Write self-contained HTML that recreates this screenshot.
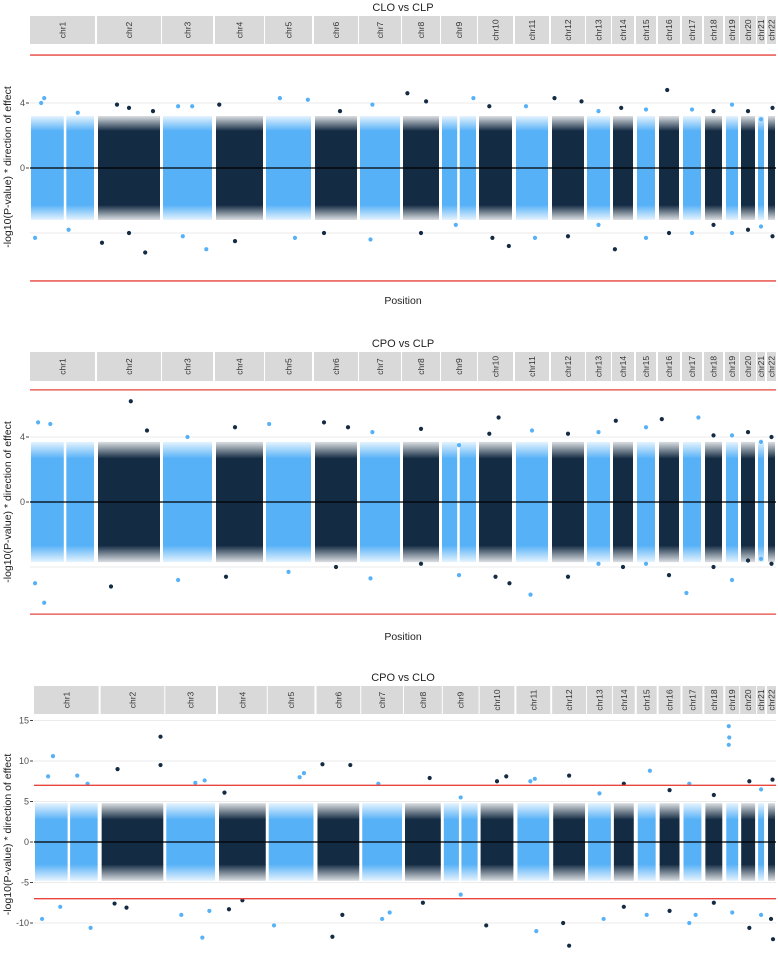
<!DOCTYPE html>
<html><head><meta charset="utf-8"><style>
html,body{margin:0;padding:0;background:#fff;}
svg{display:block;font-family:"Liberation Sans",sans-serif;}
</style></head><body>
<svg id="chart" width="778" height="953" viewBox="0 0 778 953" xmlns="http://www.w3.org/2000/svg">
<defs>
<linearGradient id="gLightUp" x1="0" y1="1" x2="0" y2="0"><stop offset="0" stop-color="#56B1F7" stop-opacity="1"/><stop offset="1" stop-color="#56B1F7" stop-opacity="0.15"/></linearGradient>
<linearGradient id="gLightDn" x1="0" y1="0" x2="0" y2="1"><stop offset="0" stop-color="#56B1F7" stop-opacity="1"/><stop offset="1" stop-color="#56B1F7" stop-opacity="0.15"/></linearGradient>
<linearGradient id="gDarkUp" x1="0" y1="1" x2="0" y2="0"><stop offset="0" stop-color="#132B43" stop-opacity="1"/><stop offset="1" stop-color="#132B43" stop-opacity="0.15"/></linearGradient>
<linearGradient id="gDarkDn" x1="0" y1="0" x2="0" y2="1"><stop offset="0" stop-color="#132B43" stop-opacity="1"/><stop offset="1" stop-color="#132B43" stop-opacity="0.15"/></linearGradient>
</defs>
</svg>
<script>
const chromNames = ["chr1","chr2","chr3","chr4","chr5","chr6","chr7","chr8","chr9","chr10","chr11","chr12","chr13","chr14","chr15","chr16","chr17","chr18","chr19","chr20","chr21","chr22"];
const chromStart = [30,97,162,215,265,314,359,402,441,478,515,551,586,612,636,658,682,704,725,740,757,767];
const chromEnd   = [95,161,213,264,312,358,401,440,477,513,549,585,611,634,656,680,702,723,739,756,765,776];
const panelTitles = ["CLO vs CLP","CPO vs CLP","CPO vs CLO"];
const bodyTop = [2.3,2.7,2.8];
const fringeTop = [3.2,3.7,4.8];
const threshold = [6.95,6.9,7];
const ticks1 = [4,0];
const ticks2 = [4,0];
const ticks3 = [15,10,5,0,-5,-10];
const out1 = [[0,.2,4.3],[0,.15,4.0],[0,.75,3.4],[0,.05,-4.3],[0,.6,-3.8],[1,.3,3.9],[1,.5,3.7],[1,.9,3.5],[1,.05,-4.6],[1,.77,-5.2],[1,.5,-4.0],[2,.3,3.8],[2,.6,3.8],[2,.9,-5.0],[2,.4,-4.2],[3,.05,3.9],[3,.4,-4.5],[4,.3,4.3],[4,.95,4.2],[4,.65,-4.3],[5,.6,3.5],[5,.2,-4.0],[6,.3,3.9],[6,.25,-4.4],[7,.1,4.6],[7,.65,4.1],[7,.5,-4.0],[8,.95,4.3],[8,.4,-3.5],[9,.3,3.8],[9,.93,-4.8],[9,.4,-4.3],[10,.3,3.8],[10,.6,-4.3],[11,.05,4.3],[11,.95,4.1],[11,.5,-4.2],[12,.5,3.5],[12,.5,-3.5],[13,.4,3.7],[13,.05,-5.0],[14,.5,3.6],[14,.5,-4.3],[15,.4,4.8],[15,.5,-4.0],[16,.5,3.6],[16,.5,-4.0],[17,.5,3.5],[17,.5,-3.5],[18,.5,3.9],[18,.5,-4.0],[19,.5,3.5],[19,.5,-3.8],[20,.5,3.0],[20,.5,-3.6],[21,.7,3.7],[21,.7,-4.2]];
const out2 = [[0,.1,4.9],[0,.3,4.8],[0,.05,-5.0],[0,.2,-6.2],[1,.53,6.2],[1,.8,4.4],[1,.2,-5.2],[2,.5,4.0],[2,.3,-4.8],[3,.4,4.6],[3,.2,-4.6],[4,.05,4.8],[4,.5,-4.3],[5,.2,4.9],[5,.8,4.6],[5,.5,-4.0],[6,.3,4.3],[6,.25,-4.7],[7,.5,4.5],[7,.5,-3.8],[8,.5,3.5],[8,.5,-4.5],[9,.6,5.2],[9,.3,4.2],[9,.95,-5.0],[9,.5,-4.6],[10,.5,4.4],[10,.45,-5.7],[11,.5,4.2],[11,.5,-4.6],[12,.5,4.3],[12,.5,-3.8],[13,.1,5.0],[13,.5,-4.0],[14,.5,4.6],[14,.5,-3.8],[15,.1,5.1],[15,.5,-4.5],[16,.9,5.2],[16,.15,-5.6],[17,.5,4.1],[17,.5,-4.0],[18,.5,4.1],[18,.5,-4.8],[19,.5,4.3],[19,.5,-3.6],[20,.5,3.7],[20,.5,-3.5],[21,.5,4.0],[21,.5,-3.8]];
const out3 = [[0,.28,10.6],[0,.2,8.1],[0,.68,8.2],[0,.85,7.2],[0,.1,-9.5],[0,.9,-10.6],[0,.4,-8.0],[1,.97,13.0],[1,.97,9.5],[1,.25,9.0],[1,.2,-7.6],[1,.4,-8.1],[2,.8,7.6],[2,.6,7.3],[2,.75,-11.8],[2,.3,-9.0],[2,.9,-8.5],[3,.1,6.1],[3,.2,-8.3],[3,.5,-7.2],[4,.8,8.5],[4,.7,8.0],[4,.1,-10.3],[5,.1,9.6],[5,.8,9.5],[5,.35,-11.7],[5,.6,-9.0],[6,.4,7.2],[6,.5,-9.5],[6,.7,-8.7],[7,.7,7.9],[7,.5,-7.5],[8,.5,5.5],[8,.5,-6.5],[9,.8,8.1],[9,.5,7.5],[9,.15,-10.3],[10,.55,7.8],[10,.4,7.5],[10,.6,-11.0],[11,.5,8.2],[11,.5,-12.8],[11,.3,-10.0],[12,.5,6.0],[12,.7,-9.5],[13,.5,7.2],[13,.5,-8.0],[14,.7,8.8],[14,.5,-9.0],[15,.5,6.4],[15,.5,-8.5],[16,.3,7.2],[16,.3,-10.0],[16,.7,-9.0],[17,.5,5.8],[17,.5,-7.5],[18,.15,14.3],[18,.2,12.9],[18,.15,12.0],[18,.5,-8.7],[19,.6,7.5],[19,.6,-10.6],[20,.5,6.5],[20,.5,-9.0],[21,.7,7.7],[21,.8,-12.0],[21,.4,-9.5]];

const NS="http://www.w3.org/2000/svg";
const svg=document.getElementById('chart');
function mk(tag,attrs,parent){const e=document.createElementNS(NS,tag);for(const k in attrs)e.setAttribute(k,attrs[k]);(parent||svg).appendChild(e);return e;}
const LIGHT="#56B1F7",DARK="#132B43";
const panels=[
 {title:6,s0:16,s1:44,xL:30,zero:168,ppu:16.25,top:48,bot:286,xlab:300,ticks:ticks1,out:out1},
 {title:342,s0:352,s1:381,xL:30,zero:502,ppu:16.25,top:384,bot:620,xlab:636,ticks:ticks2,out:out2},
 {title:676,s0:686,s1:714,xL:34,zero:842,ppu:8.1,top:716,bot:953,xlab:null,ticks:ticks3,out:out3}
];
panels.forEach((p,pi)=>{
  const g=mk('g',{});
  
  
  const sc=(776-p.xL)/(776-30);
  const xs=x=>p.xL+(x-30)*sc;
  const y=v=>p.zero-v*p.ppu;
  const t=mk('text',{x:403,y:p.title+5,'text-anchor':'middle','font-size':11,fill:'#222'},g);
  t.textContent=panelTitles[pi];
  
  
  p.ticks.forEach(v=>{
    const gl=mk('line',{x1:p.xL,x2:776,y1:y(v),y2:y(v),stroke:'#ebebeb','stroke-width':1},g);
    
    
    const tk=mk('line',{x1:p.xL-4,x2:p.xL-1,y1:y(v),y2:y(v),stroke:'#444','stroke-width':1},g);
    
    
    const tl=mk('text',{x:p.xL-5,y:y(v)+3,'text-anchor':'end','font-size':9,fill:'#4d4d4d'},g);
    tl.textContent=v;
    
    
  });
  if(pi<2){const gl=mk('line',{x1:p.xL,x2:776,y1:y(-4),y2:y(-4),stroke:'#ebebeb'},g);
    }
  chromNames.forEach((c,i)=>{
    const a=xs(chromStart[i]),b=xs(chromEnd[i]);
    const st=mk('rect',{x:a,y:p.s0,width:b-a,height:p.s1-p.s0,fill:'#d9d9d9'},g);
    
    
    const cx=(a+b)/2,cy=(p.s0+p.s1)/2;
    const tx=mk('text',{x:cx,y:cy,'text-anchor':'middle','font-size':8.5,fill:'#333',transform:`rotate(-90 ${cx} ${cy})`,dy:3},g);
    tx.textContent=c;
    
    
    const light=i%2===0;
    const col=light?LIGHT:DARK;
    const fu=mk('rect',{x:a+1,y:y(fringeTop[pi]),width:b-a-2,height:y(bodyTop[pi])-y(fringeTop[pi])+0.5,fill:light?'url(#gLightUp)':'url(#gDarkUp)'},g);
    
    
    const fd=mk('rect',{x:a+1,y:y(-bodyTop[pi])-0.5,width:b-a-2,height:y(-fringeTop[pi])-y(-bodyTop[pi])+0.5,fill:light?'url(#gLightDn)':'url(#gDarkDn)'},g);
    
    
    const bd=mk('rect',{x:a+1,y:y(bodyTop[pi]),width:b-a-2,height:y(-bodyTop[pi])-y(bodyTop[pi]),fill:col},g);
    
    
    if(i===0||i===8){const gx=a+(b-a)*(i===0?0.52:0.45);
      const gp=mk('rect',{x:gx,y:y(fringeTop[pi])-2,width:2.5,height:y(-fringeTop[pi])-y(fringeTop[pi])+4,fill:'#fff'},g);
      }
  });
  p.out.forEach(o=>{
    const a=xs(chromStart[o[0]]),b=xs(chromEnd[o[0]]);
    const pt=mk('circle',{cx:a+2+(b-a-4)*o[1],cy:y(o[2]),r:2.1,fill:o[0]%2===0?LIGHT:DARK},g);
    
    
  });
  const zl=mk('line',{x1:p.xL,x2:776,y1:p.zero,y2:p.zero,stroke:'#000','stroke-width':1.3},g);
  
  
  [threshold[pi],-threshold[pi]].forEach(v=>{
    const rl=mk('line',{x1:p.xL,x2:776,y1:y(v),y2:y(v),stroke:'#e8453c','stroke-width':1.3},g);
    
    
  });
  const cy=(p.top+p.bot)/2;
  const yt=mk('text',{x:11,y:cy,'text-anchor':'middle','font-size':10.5,fill:'#222',transform:`rotate(-90 11 ${cy})`},g);
  yt.textContent='-log10(P-value) * direction of effect';
  
  
  if(p.xlab){const xl=mk('text',{x:403,y:p.xlab+4,'text-anchor':'middle','font-size':10.5,fill:'#222'},g);
    xl.textContent='Position';
    
    }
});
</script>
</body></html>
